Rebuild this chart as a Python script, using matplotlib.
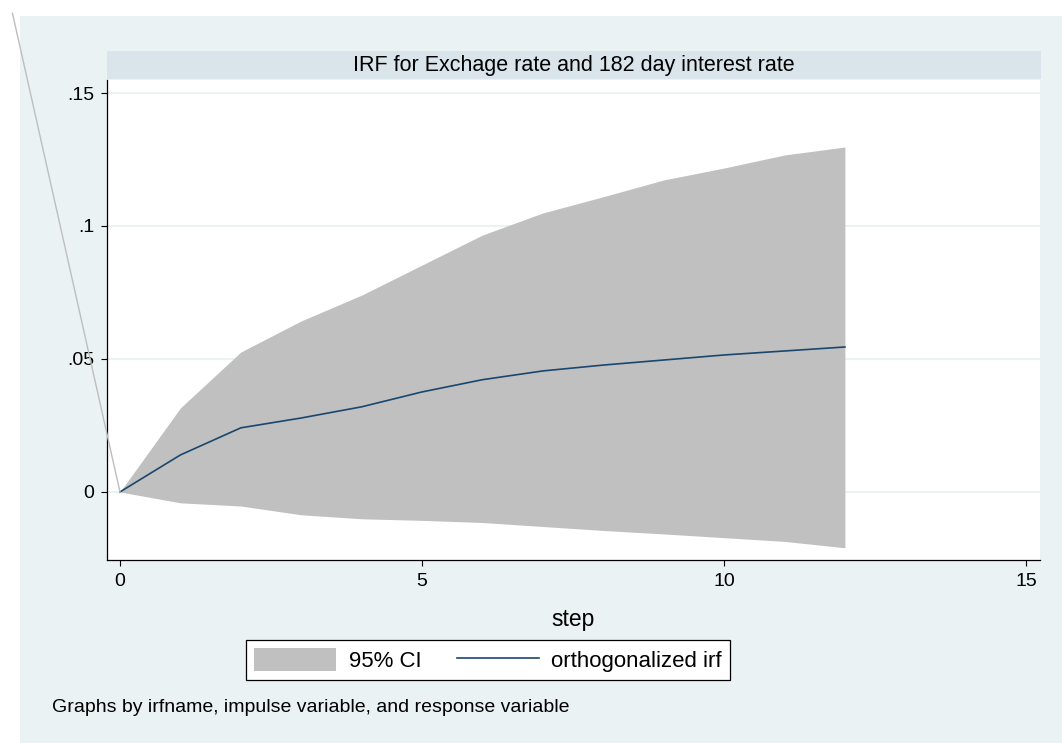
import matplotlib.pyplot as plt
from matplotlib.patches import Rectangle

plt.rcParams['font.family'] = ['Liberation Sans', 'DejaVu Sans']

# IRF data
steps = [0, 1, 2, 3, 4, 5, 6, 7, 8, 9, 10, 11, 12]
irf = [0.0, 0.0139, 0.0241, 0.0278, 0.0320, 0.0376, 0.0422, 0.0455, 0.0477,
       0.0496, 0.0515, 0.0530, 0.0545]
ci_upper = [0.0, 0.0316, 0.0526, 0.0643, 0.0740, 0.0853, 0.0966, 0.1049, 0.1110,
            0.1173, 0.1218, 0.1267, 0.1297]
ci_lower = [0.0, -0.0041, -0.0053, -0.0086, -0.0101, -0.0107, -0.0115, -0.0130,
            -0.0145, -0.0158, -0.0172, -0.0186, -0.0210]
# stray segment of the CI outline that runs off the plot
stray_x = [-1.78, 0]
stray_y = [0.180, 0.0]

x_ticks = [0, 5, 10, 15]
x_labels = ['0', '5', '10', '15']
y_ticks = [0, 0.05, 0.1, 0.15]
y_labels = ['0', '.05', '.1', '.15']

bg = '#EAF2F3'
strip = '#D9E5EA'
navy = '#1A476F'
ci_grey = '#C0C0C0'

W, H = 1062, 743
fig = plt.figure(figsize=(W / 100, H / 100), dpi=100)
fig.patch.set_facecolor('white')

# graph region background
fig.add_artist(Rectangle((20 / W, 0), 1 - 20 / W, 1 - 16 / H, transform=fig.transFigure,
                         facecolor=bg, edgecolor='none', zorder=0))
# title strip
fig.add_artist(Rectangle((107 / W, 1 - 79 / H), (1041 - 107) / W, 28 / H,
                         transform=fig.transFigure, facecolor=strip, edgecolor='none', zorder=1))
fig.text(574 / W, 1 - 65 / H, 'IRF for Exchage rate and 182 day interest rate',
         ha='center', va='center', fontsize=15.5, color='black')

ax = fig.add_axes([107 / W, 1 - 560 / H, (1040 - 107) / W, (560 - 80) / H])
ax.set_facecolor('white')

ax.fill_between(steps, ci_lower, ci_upper, color=ci_grey, linewidth=0, label='95% CI', zorder=2)
ax.plot(steps, irf, color=navy, linewidth=1.2, label='orthogonalized irf', zorder=3)
ax.plot(stray_x, stray_y, color='#BEBEBE', linewidth=1.0, clip_on=False, zorder=3)

ax.set_xlim(-0.215, 15.23)
ax.set_ylim(-0.0256, 0.1549)

ax.set_xticks(x_ticks)
ax.set_xticklabels(x_labels)
ax.set_yticks(y_ticks)
ax.set_yticklabels(y_labels)
ax.tick_params(axis='both', direction='out', length=4, width=0.8, labelsize=14, pad=5)

ax.yaxis.grid(True, color=bg, linewidth=1.5)
ax.xaxis.grid(False)
ax.set_axisbelow(True)

for side in ['top', 'right']:
    ax.spines[side].set_visible(False)
for side in ['left', 'bottom']:
    ax.spines[side].set_color('black')
    ax.spines[side].set_linewidth(0.9)

ax.set_xlabel('step', fontsize=16.5, labelpad=13)

leg = fig.legend(loc='center', bbox_to_anchor=(488 / W, 1 - 660 / H), ncol=2,
                 fontsize=16, frameon=True, fancybox=False, handlelength=3.7,
                 handleheight=1.2, handletextpad=0.55, columnspacing=1.6,
                 borderpad=0.35)
leg.get_frame().set_edgecolor('black')
leg.get_frame().set_linewidth(0.9)
leg.get_frame().set_facecolor('white')
leg.get_frame().set_alpha(1)

fig.text(52 / W, 1 - 707 / H, 'Graphs by irfname, impulse variable, and response variable',
         ha='left', va='center', fontsize=14, color='black')

fig.savefig('out.png', dpi=100, facecolor=fig.get_facecolor())
